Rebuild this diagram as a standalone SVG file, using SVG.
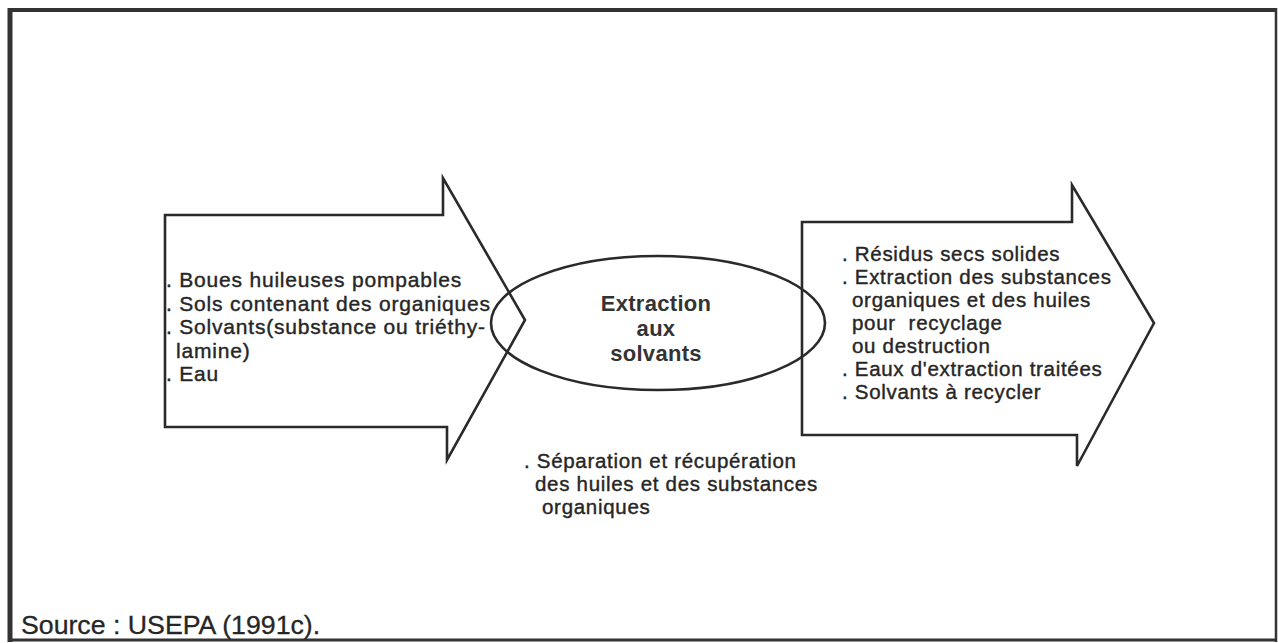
<svg xmlns="http://www.w3.org/2000/svg" width="1278" height="643" viewBox="0 0 1278 643">
<style>
.ln{fill:none;stroke:#2a2a2a;stroke-width:2.6;stroke-linejoin:miter}
.fr{stroke:#333;fill:none}
.t{font-family:"Liberation Sans",Arial,sans-serif;font-size:20.5px;letter-spacing:0.7px;fill:#262626;stroke:#262626;stroke-width:0.4px}
.tl{font-family:"Liberation Sans",Arial,sans-serif;font-size:21px;letter-spacing:0.8px;fill:#262626;stroke:#262626;stroke-width:0.4px}
.b{font-family:"Liberation Sans",Arial,sans-serif;font-size:22px;font-weight:bold;letter-spacing:0.3px;fill:#333;text-anchor:middle}
.s{font-family:"Liberation Sans",Arial,sans-serif;font-size:26.7px;fill:#262626;stroke:#262626;stroke-width:0.3px}
</style>
<rect width="1278" height="643" fill="#fff"/>
<g id="frame">
<line class="fr" x1="10" y1="8" x2="10" y2="642" stroke-width="5"/>
<line class="fr" x1="8" y1="10" x2="1277" y2="10" stroke-width="4"/>
<line class="fr" x1="1276" y1="8" x2="1276" y2="642" stroke-width="2.5"/>
<line class="fr" x1="8" y1="640" x2="1277" y2="640" stroke-width="3"/>
</g>
<g id="connectors">
<polygon id="left-arrow" class="ln" points="165,215 443,215 443,178 525,320 447,460 447,427 165,427"/>
<polygon id="right-arrow" class="ln" points="802,222 1072,222 1072,185 1154,323 1077,466 1077,435 802,435"/>
</g>
<g id="inputs">
<text class="tl" x="166" y="287">. Boues huileuses pompables</text>
<text class="tl" x="166" y="310.5">. Sols contenant des organiques</text>
<text class="tl" x="166" y="334">. Solvants(substance ou triéthy-</text>
<text class="tl" x="176" y="357.5">lamine)</text>
<text class="tl" x="166" y="381">. Eau</text>
</g>
<g id="process">
<ellipse cx="658" cy="323" rx="167" ry="67" class="ln"/>
<text class="b" x="656" y="311">Extraction</text>
<text class="b" x="656" y="336">aux</text>
<text class="b" x="656" y="361">solvants</text>
</g>
<g id="outputs">
<text class="t" x="842" y="261">. Résidus secs solides</text>
<text class="t" x="842" y="284">. Extraction des substances</text>
<text class="t" x="852" y="307">organiques et des huiles</text>
<text class="t" x="852" y="330" xml:space="preserve">pour  recyclage</text>
<text class="t" x="852" y="353">ou destruction</text>
<text class="t" x="842" y="376">. Eaux d'extraction traitées</text>
<text class="t" x="842" y="399">. Solvants à recycler</text>
</g>
<g id="separation">
<text class="t" x="524" y="468">. Séparation et récupération</text>
<text class="t" x="535" y="491">des huiles et des substances</text>
<text class="t" x="542" y="514">organiques</text>
</g>
<g id="source">
<text class="s" x="21" y="634">Source : USEPA (1991c).</text>
</g>
</svg>
